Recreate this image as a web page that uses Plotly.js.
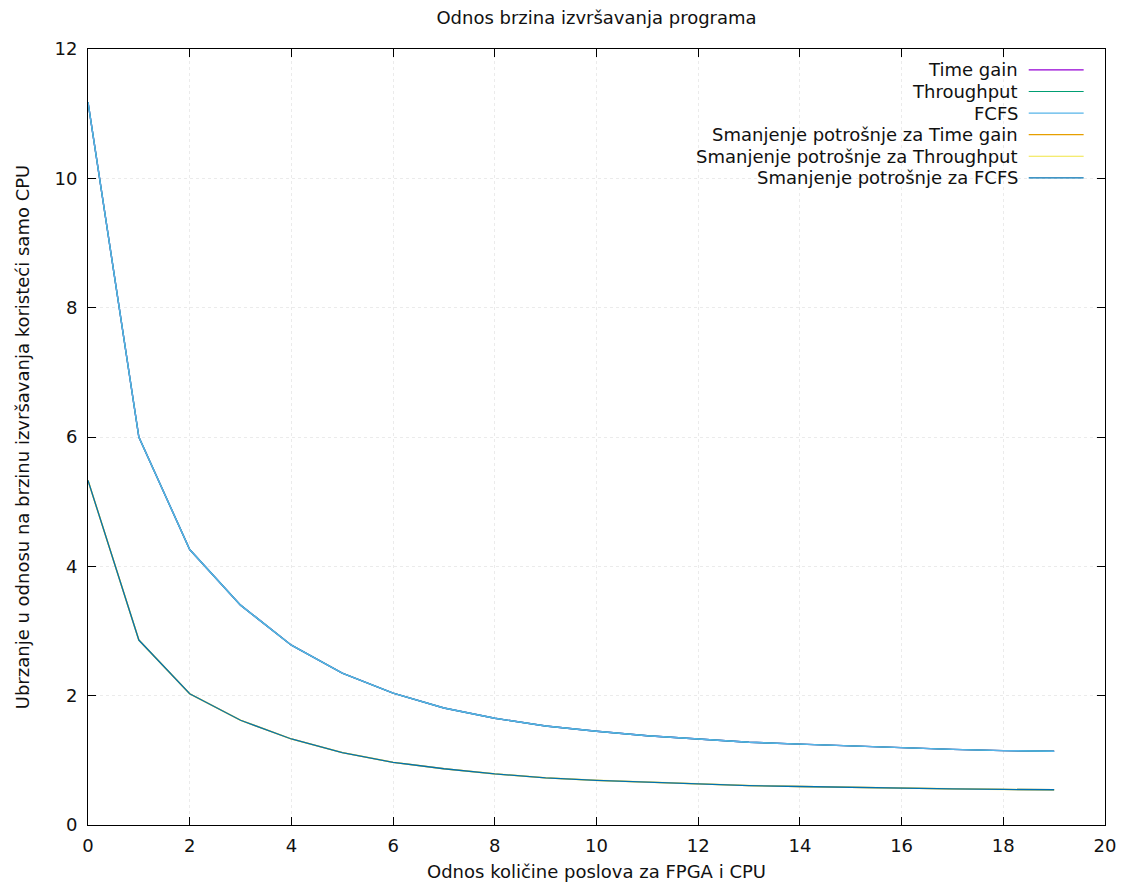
<!DOCTYPE html>
<html>
<head>
<meta charset="utf-8">
<script src="https://cdn.plot.ly/plotly-3.0.1.min.js"></script>
<style>html,body{margin:0;padding:0;background:#fff;}#chart{width:1125px;height:891px;}</style>
</head>
<body>
<div id="chart"></div>
<script>
const xValues = [0,1,2,3,4,5,6,7,8,9,10,11,12,13,14,15,16,17,18,19];
const timeGain = [11.18,6.0,4.26,3.40,2.78,2.35,2.04,1.81,1.65,1.53,1.45,1.38,1.33,1.28,1.25,1.22,1.19,1.17,1.15,1.14];
const throughput = [11.18,6.0,4.26,3.40,2.78,2.35,2.04,1.81,1.65,1.53,1.45,1.38,1.33,1.28,1.25,1.22,1.19,1.17,1.15,1.14];
const fcfs = [11.18,6.0,4.26,3.40,2.78,2.35,2.04,1.81,1.65,1.53,1.45,1.38,1.33,1.28,1.25,1.22,1.19,1.17,1.15,1.14];
const smTimeGain = [5.33,2.86,2.03,1.62,1.33,1.12,0.97,0.87,0.79,0.73,0.69,0.66,0.63,0.61,0.595,0.58,0.57,0.56,0.55,0.545];
const smThroughput = [5.33,2.86,2.03,1.62,1.33,1.12,0.97,0.87,0.79,0.73,0.69,0.66,0.63,0.61,0.595,0.58,0.57,0.56,0.55,0.545];
const smFcfs = [5.33,2.86,2.03,1.62,1.33,1.12,0.97,0.87,0.79,0.73,0.69,0.66,0.63,0.61,0.595,0.58,0.57,0.56,0.55,0.545];
const seriesNames = ["Time gain","Throughput","FCFS","Smanjenje potrošnje za Time gain","Smanjenje potrošnje za Throughput","Smanjenje potrošnje za FCFS"];
const seriesColors = ["#9400d3","#009e73","#56b4e9","#e69f00","#f0e442","#0072b2"];
const seriesWidths = [1.4,1.4,1.4,1.3,1.6,1.3];
const seriesData = [timeGain, throughput, fcfs, smTimeGain, smThroughput, smFcfs];
const xTicks = [0,2,4,6,8,10,12,14,16,18,20];
const yTicks = [0,2,4,6,8,10,12];

const FONT = "DejaVu Sans, sans-serif";
const FS = 18;
const traces = seriesData.map((ys, i) => ({
  x: xValues, y: ys, type: "scatter", mode: "lines", name: seriesNames[i],
  line: {color: seriesColors[i], width: seriesWidths[i]}, opacity: (i === 4 ? 0.6 : 1),
  showlegend: false, hoverinfo: "skip"
}));

// gnuplot-style legend: text right-aligned, sample line to its right
const annotations = [];
const shapes = [];
const legTop = 0.973, legStep = 0.0278;
seriesNames.forEach((n, i) => {
  const yy = legTop - i * legStep;
  annotations.push({xref: "paper", yref: "paper", x: 0.916, y: yy, xanchor: "right", yanchor: "middle",
    text: n, showarrow: false, font: {family: FONT, size: FS, color: "#111"}});
  shapes.push({type: "line", xref: "paper", yref: "paper", x0: 0.925, x1: 0.979, y0: yy, y1: yy,
    line: {color: seriesColors[i], width: 1.2}});
});

const axisCommon = {
  showline: true, linecolor: "#000", linewidth: 1, mirror: "ticks",
  ticks: "inside", ticklen: 8, tickcolor: "#000", tickwidth: 1,
  showgrid: true, gridcolor: "#ebebeb", griddash: "dot", gridwidth: 1, zeroline: false,
  tickfont: {family: FONT, size: FS, color: "#111"}
};

const layout = {
  width: 1125, height: 891,
  margin: {l: 88, r: 20, t: 49, b: 66},
  paper_bgcolor: "#fff", plot_bgcolor: "#fff",
  font: {family: FONT, size: FS, color: "#111"},
  title: {text: "Odnos brzina izvršavanja programa", font: {family: FONT, size: FS, color: "#111"},
          xref: "paper", x: 0.5, xanchor: "center", y: 0.98, yanchor: "middle"},
  xaxis: Object.assign({}, axisCommon, {range: [0, 20], tickvals: xTicks, ticktext: xTicks.map(String),
    ticklabelstandoff: 4,
    title: {text: "Odnos količine poslova za FPGA i CPU", font: {family: FONT, size: FS, color: "#111"}, standoff: 10}}),
  yaxis: Object.assign({}, axisCommon, {range: [0, 12], tickvals: yTicks, ticktext: yTicks.map(String),
    ticklabelstandoff: 6,
    title: {text: "Ubrzanje u odnosu na brzinu izvršavanja koristeći samo CPU", font: {family: FONT, size: FS, color: "#111"}, standoff: 20}}),
  annotations: annotations,
  shapes: shapes,
  showlegend: false
};
Plotly.newPlot("chart", traces, layout, {displayModeBar: false, staticPlot: true});
</script>
</body>
</html>
